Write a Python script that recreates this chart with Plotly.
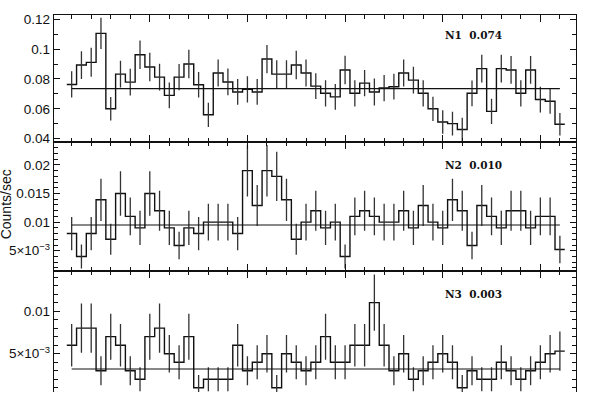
import plotly.graph_objects as go

# time bins (bin index, width 1)
bin_centre = [2, 3, 4, 5, 6, 7, 8, 9, 10, 11, 12, 13, 14, 15, 16, 17, 18, 19, 20, 21,
              22, 23, 24, 25, 26, 27, 28, 29, 30, 31, 32, 33, 34, 35, 36, 37, 38, 39, 40, 41,
              42, 43, 44, 45, 46, 47, 48, 49, 50, 51, 52]

n1_rate = [0.0763, 0.0893, 0.0911, 0.1105, 0.0600, 0.0832, 0.0779, 0.0962, 0.0880, 0.0812,
           0.0690, 0.0812, 0.0900, 0.0761, 0.0560, 0.0840, 0.0780, 0.0713, 0.0730, 0.0713,
           0.0933, 0.0832, 0.0832, 0.0893, 0.0840, 0.0752, 0.0704, 0.0680, 0.0860, 0.0704,
           0.0772, 0.0713, 0.0739, 0.0748, 0.0840, 0.0792, 0.0704, 0.0600, 0.0512, 0.0501,
           0.0462, 0.0704, 0.0869, 0.0583, 0.0869, 0.0860, 0.0704, 0.0860, 0.0662, 0.0651,
           0.0497]
n1_err = [0.0088, 0.0093, 0.0097, 0.0104, 0.0079, 0.0090, 0.0090, 0.0095, 0.0095, 0.0090,
          0.0086, 0.0088, 0.0095, 0.0086, 0.0081, 0.0090, 0.0090, 0.0086, 0.0088, 0.0086,
          0.0095, 0.0093, 0.0093, 0.0095, 0.0090, 0.0086, 0.0088, 0.0086, 0.0095, 0.0088,
          0.0088, 0.0090, 0.0088, 0.0086, 0.0090, 0.0090, 0.0088, 0.0081, 0.0079, 0.0079,
          0.0079, 0.0086, 0.0093, 0.0084, 0.0093, 0.0093, 0.0088, 0.0093, 0.0086, 0.0084,
          0.0075]
n1_mean = 0.0735

n2_rate = [0.0080, 0.0040, 0.0080, 0.0139, 0.0070, 0.0150, 0.0110, 0.0090, 0.0150, 0.0120,
           0.0090, 0.0059, 0.0090, 0.0080, 0.0100, 0.0100, 0.0100, 0.0080, 0.0190, 0.0129,
           0.0190, 0.0180, 0.0139, 0.0070, 0.0100, 0.0120, 0.0090, 0.0100, 0.0040, 0.0110,
           0.0120, 0.0110, 0.0100, 0.0100, 0.0120, 0.0090, 0.0129, 0.0100, 0.0090, 0.0139,
           0.0120, 0.0059, 0.0129, 0.0110, 0.0090, 0.0120, 0.0120, 0.0090, 0.0110, 0.0110,
           0.0052]
n2_err = [0.0029, 0.0021, 0.0029, 0.0037, 0.0027, 0.0039, 0.0033, 0.0030, 0.0039, 0.0035,
          0.0030, 0.0024, 0.0030, 0.0029, 0.0032, 0.0032, 0.0032, 0.0029, 0.0045, 0.0036,
          0.0045, 0.0043, 0.0037, 0.0027, 0.0032, 0.0035, 0.0030, 0.0032, 0.0021, 0.0033,
          0.0035, 0.0033, 0.0032, 0.0032, 0.0035, 0.0030, 0.0036, 0.0032, 0.0030, 0.0037,
          0.0035, 0.0024, 0.0036, 0.0033, 0.0030, 0.0035, 0.0035, 0.0030, 0.0033, 0.0033,
          0.0024]
n2_mean = 0.0095

n3_rate = [0.006, 0.008, 0.008, 0.003, 0.007, 0.006, 0.003, 0.002, 0.007, 0.008,
           0.005, 0.004, 0.007, 0.001, 0.002, 0.002, 0.002, 0.006, 0.003, 0.004,
           0.005, 0.001, 0.005, 0.004, 0.003, 0.004, 0.007, 0.004, 0.004, 0.006,
           0.006, 0.011, 0.006, 0.003, 0.005, 0.002, 0.003, 0.004, 0.005, 0.004,
           0.001, 0.003, 0.002, 0.002, 0.004, 0.003, 0.002, 0.003, 0.004, 0.005,
           0.0053]
n3_err = [0.0025, 0.0029, 0.0029, 0.0017, 0.0027, 0.0025, 0.0017, 0.0014, 0.0027, 0.0029,
          0.0022, 0.0020, 0.0027, 0.0015, 0.0014, 0.0014, 0.0014, 0.0025, 0.0017, 0.0020,
          0.0022, 0.0015, 0.0022, 0.0020, 0.0017, 0.0020, 0.0027, 0.0020, 0.0020, 0.0025,
          0.0025, 0.0033, 0.0025, 0.0017, 0.0022, 0.0014, 0.0017, 0.0020, 0.0022, 0.0020,
          0.0015, 0.0017, 0.0014, 0.0014, 0.0020, 0.0017, 0.0014, 0.0017, 0.0020, 0.0022,
          0.0023]
n3_mean = 0.0032

labels = ["N1  0.074", "N2  0.010", "N3  0.003"]

n1_ticks = [0.04, 0.06, 0.08, 0.1, 0.12]
n1_ticktext = ["0.04", "0.06", "0.08", "0.1", "0.12"]
n2_ticks = [0.005, 0.01, 0.015, 0.02]
n2_ticktext = ["5×10<sup>−3</sup>", "0.01", "0.015", "0.02"]
n3_ticks = [0.005, 0.01]
n3_ticktext = ["5×10<sup>−3</sup>", "0.01"]

edges = [c - 0.5 for c in bin_centre] + [bin_centre[-1] + 0.5]

fig = go.Figure()

panels = [
    (n1_rate, n1_err, n1_mean, "x", "y"),
    (n2_rate, n2_err, n2_mean, "x2", "y2"),
    (n3_rate, n3_err, n3_mean, "x3", "y3"),
]
for rate, err, mean, xa, ya in panels:
    fig.add_trace(go.Scatter(x=edges, y=rate + [rate[-1]], mode="lines", line_shape="hv",
                             line=dict(color="#111", width=1.4), xaxis=xa, yaxis=ya,
                             hoverinfo="skip"))
    fig.add_trace(go.Scatter(x=bin_centre, y=rate, mode="markers", marker=dict(size=0.1, color="#111"),
                             error_y=dict(type="data", array=err, visible=True, width=0,
                                          thickness=1.3, color="#333"),
                             xaxis=xa, yaxis=ya))
    fig.add_trace(go.Scatter(x=[bin_centre[0], bin_centre[-1]], y=[mean, mean], mode="lines",
                             line=dict(color="#111", width=1.2), xaxis=xa, yaxis=ya,
                             hoverinfo="skip"))

xcommon = dict(range=[0.19, 53.65], showline=True, linecolor="#111", linewidth=1.4,
               ticks="inside", ticklen=7, tickwidth=1.2, tickcolor="#111",
               tick0=0, dtick=10, showticklabels=False, showgrid=False, zeroline=False,
               minor=dict(ticks="inside", ticklen=4, tickwidth=1.1, tickcolor="#111",
                          dtick=2, tick0=0, showgrid=False))
ycommon = dict(showline=True, linecolor="#111", linewidth=1.4, mirror="allticks",
               ticks="inside", ticklen=6, tickwidth=1.2, tickcolor="#111",
               showgrid=False, zeroline=False, tickmode="array",
               tickfont=dict(family="Liberation Sans", size=13.5, color="#111"))

d1 = [0.6627, 1.0]
d2 = [0.3215, 0.6627]
d3 = [0.0, 0.3215]

fig.update_layout(
    width=598, height=396,
    margin=dict(l=54, r=22, t=15, b=0),
    paper_bgcolor="white", plot_bgcolor="white",
    showlegend=False,
    xaxis=dict(xcommon, domain=[0, 1], anchor="y", mirror="allticks"),
    xaxis2=dict(xcommon, domain=[0, 1], anchor="y2", mirror="allticks", matches="x"),
    xaxis3=dict(xcommon, domain=[0, 1], anchor="y3", side="top", mirror=False, matches="x"),
    yaxis=dict(ycommon, domain=d1, anchor="x", range=[0.03768, 0.1228],
               tickvals=n1_ticks, ticktext=n1_ticktext,
               minor=dict(ticks="inside", ticklen=4, tickwidth=1.1, tickcolor="#111",
                          tickmode="linear", tick0=0, dtick=0.01, showgrid=False)),
    yaxis2=dict(ycommon, domain=d2, anchor="x2", range=[0.00149, 0.02398],
                tickvals=n2_ticks, ticktext=n2_ticktext,
                minor=dict(ticks="inside", ticklen=4, tickwidth=1.1, tickcolor="#111",
                           tickmode="linear", tick0=0, dtick=0.001, showgrid=False)),
    yaxis3=dict(ycommon, domain=d3, anchor="x3", range=[0.0005, 0.01474],
                tickvals=n3_ticks, ticktext=n3_ticktext,
                minor=dict(ticks="inside", ticklen=4, tickwidth=1.1, tickcolor="#111",
                           tickmode="linear", tick0=0, dtick=0.001, showgrid=False)),
)

label_y = [0.1095, 0.02, 0.012]
for txt, ya, yv in zip(labels, ["y", "y2", "y3"], label_y):
    fig.add_annotation(text=txt, x=40, y=yv, xref=ya.replace("y", "x"), yref=ya,
                       xanchor="left", yanchor="middle", showarrow=False,
                       font=dict(family="DejaVu Serif", size=10.5, color="#111", weight="bold"))

fig.add_annotation(text="Counts/sec", textangle=-90, x=-0.093, y=0.499, xref="paper", yref="paper",
                   xanchor="center", yanchor="middle", showarrow=False,
                   font=dict(family="Liberation Sans", size=14, color="#111"))

# page body has a default 8px margin; drop it so the figure sits at the window corner
fig.write_html("out.html", config={"displayModeBar": False},
               post_script="document.body.style.margin = '0';")
